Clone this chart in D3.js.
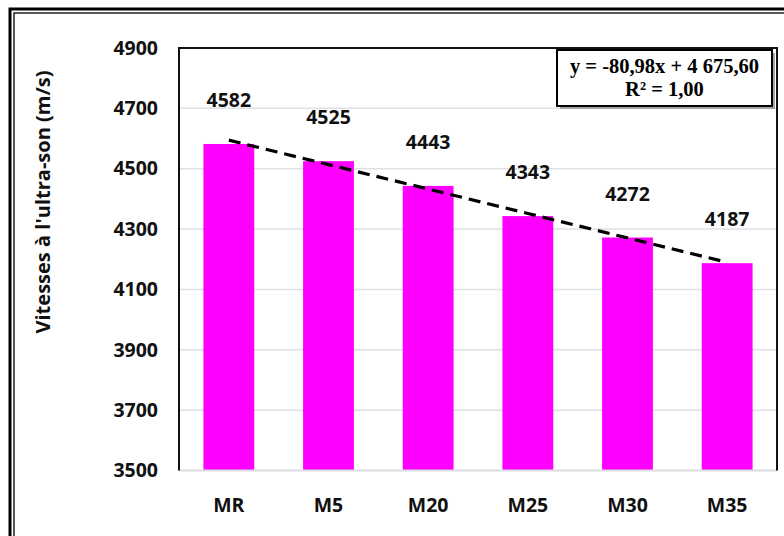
<!DOCTYPE html>
<html>
<head>
<meta charset="utf-8">
<script src="https://cdn.jsdelivr.net/npm/d3@7"></script>
<style>
  body { margin: 0; background: #fff; }
  svg { display: block; }
</style>
</head>
<body>
<svg width="784" height="536"></svg>
<script>
// chart data
var categories = ["MR", "M5", "M20", "M25", "M30", "M35"];
var speeds = [4582, 4525, 4443, 4343, 4272, 4187];
var yTicks = [3500, 3700, 3900, 4100, 4300, 4500, 4700, 4900];
// trendline as printed on the chart: y = -80,98x + 4 675,60
var trendSlope = -80.98;
var trendIntercept = 4675.60;
var eqLine1 = "y = -80,98x + 4 675,60";
var eqLine2 = "R² = 1,00";
var yTitle = "Vitesses à l'ultra-son (m/s)";

var svg = d3.select("svg");
var plot = {left: 179, top: 48, right: 777, bottom: 470.5};

// outer double frame (runs off the right / bottom edge)
svg.append("rect")
        .attr("x", 10).attr("y", 9)
        .attr("width", 800).attr("height", 560)
        .attr("fill", "none")
        .attr("stroke", "#000")
        .attr("stroke-width", 3);
svg.append("rect")
        .attr("x", 14).attr("y", 13)
        .attr("width", 800).attr("height", 560)
        .attr("fill", "none")
        .attr("stroke", "#000")
        .attr("stroke-width", 1.3);

// scales
var xScale = d3.scaleBand()
        .domain(categories)
        .range([plot.left, plot.right])
        .paddingInner(0.49)
        .paddingOuter(0.245);
var yScale = d3.scaleLinear()
        .domain([3500, 4900])
        .range([plot.bottom, plot.top]);

// gridlines
svg.append("g")
        .selectAll("line")
        .data(yTicks.slice(1))
        .enter()
        .append("line")
        .attr("x1", plot.left)
        .attr("x2", plot.right)
        .attr("y1", function (d) { return yScale(d); })
        .attr("y2", function (d) { return yScale(d); })
        .attr("stroke", "#dde1e6")
        .attr("stroke-width", 1.5);

// bars
svg.append("g")
        .selectAll("rect")
        .data(speeds)
        .enter()
        .append("rect")
        .attr("x", function (d, i) { return xScale(categories[i]); })
        .attr("y", function (d) { return yScale(d); })
        .attr("width", xScale.bandwidth())
        .attr("height", function (d) { return plot.bottom - yScale(d); })
        .attr("fill", "#ff00ff");

// plot frame: black left/top/right, gray bottom axis
svg.append("line")
        .attr("x1", plot.left).attr("x2", plot.right)
        .attr("y1", plot.bottom).attr("y2", plot.bottom)
        .attr("stroke", "#d9dde2").attr("stroke-width", 2);
svg.append("path")
        .attr("d", "M" + plot.left + "," + plot.bottom + "V" + plot.top + "H" + plot.right + "V" + plot.bottom)
        .attr("fill", "none")
        .attr("stroke", "#111")
        .attr("stroke-width", 2);

// y axis (labels only)
var yAxis = d3.axisLeft(yScale)
        .tickValues(yTicks)
        .tickFormat(d3.format("d"))
        .tickSize(0)
        .tickPadding(21);
var gY = svg.append("g")
        .attr("transform", "translate(" + plot.left + ",0)")
        .call(yAxis);
gY.select(".domain").remove();
gY.selectAll("text")
        .attr("font-family", "'Open Sans', sans-serif")
        .attr("font-weight", "bold")
        .attr("font-size", "19.5px")
        .attr("fill", "#111");

// x axis (labels only)
var xAxis = d3.axisBottom(xScale)
        .tickSize(0)
        .tickPadding(28);
var gX = svg.append("g")
        .attr("transform", "translate(0," + plot.bottom + ")")
        .call(xAxis);
gX.select(".domain").remove();
gX.selectAll("text")
        .attr("font-family", "'Open Sans', sans-serif")
        .attr("font-weight", "bold")
        .attr("font-size", "19.5px")
        .attr("fill", "#111");

// data labels
svg.append("g")
        .selectAll("text")
        .data(speeds)
        .enter()
        .append("text")
        .text(function (d) { return d; })
        .attr("x", function (d, i) { return xScale(categories[i]) + xScale.bandwidth() / 2; })
        .attr("y", function (d) { return yScale(d) - 37; })
        .attr("text-anchor", "middle")
        .attr("font-family", "'Open Sans', sans-serif")
        .attr("font-weight", "bold")
        .attr("font-size", "19.5px")
        .attr("fill", "#111");

// linear trendline
var trendPts = categories.map(function (c, i) {
    return [xScale(c) + xScale.bandwidth() / 2, yScale(trendSlope * (i + 1) + trendIntercept)];
});
svg.append("path")
        .attr("d", d3.line()(trendPts))
        .attr("fill", "none")
        .attr("stroke", "#000")
        .attr("stroke-width", 3.2)
        .attr("stroke-dasharray", "12,7");

// equation box with shadow
var box = {x: 557, y: 50, w: 215, h: 56};
svg.append("rect")
        .attr("x", box.x + 3).attr("y", box.y + 3)
        .attr("width", box.w).attr("height", box.h)
        .attr("fill", "#a6a6a6");
svg.append("rect")
        .attr("x", box.x).attr("y", box.y)
        .attr("width", box.w).attr("height", box.h)
        .attr("fill", "#fff")
        .attr("stroke", "#000")
        .attr("stroke-width", 2);
svg.append("text")
        .text(eqLine1)
        .attr("x", box.x + box.w / 2)
        .attr("y", box.y + 23)
        .attr("text-anchor", "middle")
        .attr("font-family", "'Liberation Serif', serif")
        .attr("font-weight", "bold")
        .attr("font-size", "20.5px");
svg.append("text")
        .text(eqLine2)
        .attr("x", box.x + box.w / 2)
        .attr("y", box.y + 46)
        .attr("text-anchor", "middle")
        .attr("font-family", "'Liberation Serif', serif")
        .attr("font-weight", "bold")
        .attr("font-size", "20.5px");

// y axis title
svg.append("text")
        .text(yTitle)
        .attr("transform", "translate(50,202) rotate(-90)")
        .attr("text-anchor", "middle")
        .attr("textLength", 263)
        .attr("lengthAdjust", "spacingAndGlyphs")
        .attr("font-family", "'Open Sans', sans-serif")
        .attr("font-weight", "bold")
        .attr("font-size", "19px")
        .attr("fill", "#111");
</script>
</body>
</html>
